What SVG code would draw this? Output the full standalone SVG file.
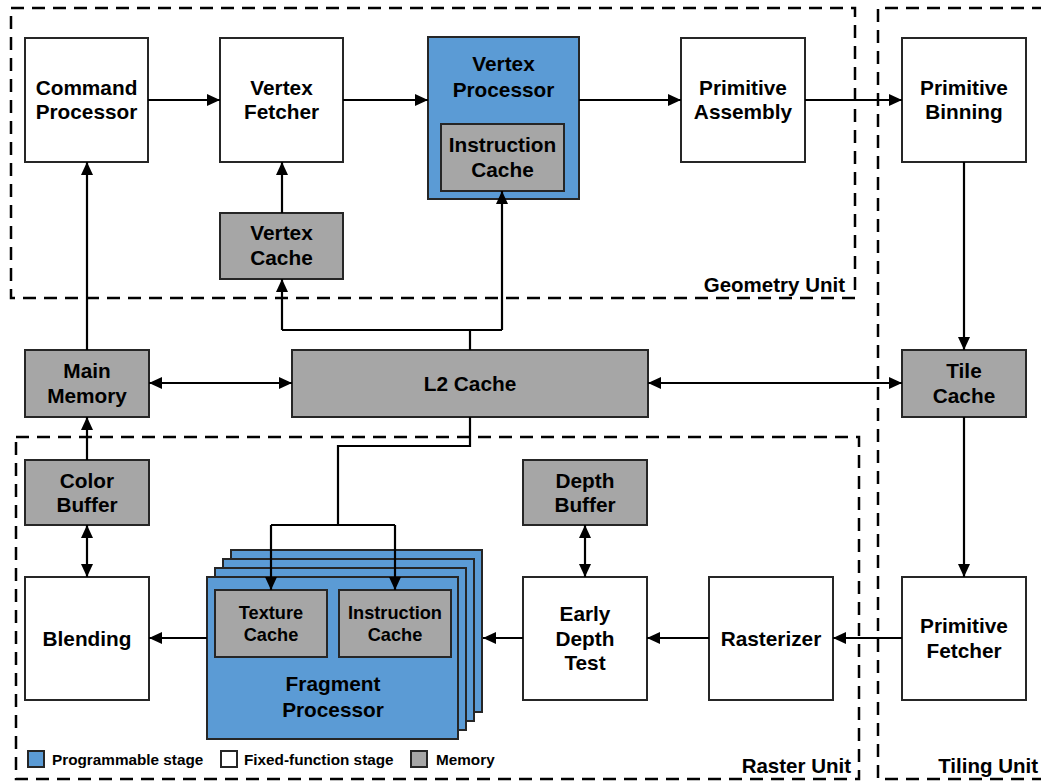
<svg xmlns="http://www.w3.org/2000/svg" width="1041" height="782" viewBox="0 0 1041 782">
  <style>
    .box { stroke: #262626; stroke-width: 2; }
    .fixed { fill: #ffffff; }
    .mem { fill: #a6a6a6; }
    .prog { fill: #5b9bd5; }
    .unit { fill: none; stroke: #000; stroke-width: 2.5; stroke-dasharray: 13 8; }
    .wire { fill: none; stroke: #000; stroke-width: 2.2; }
    text { font-family: "Liberation Sans", Arial, sans-serif; font-weight: bold; fill: #000; }
    .lbl { font-size: 20.8px; text-anchor: middle; }
    .sm { font-size: 18.2px; text-anchor: middle; }
    .unitlbl { font-size: 20.5px; text-anchor: end; }
    .leg { font-size: 15.3px; }
  </style>
  <defs>
    <marker id="arr" markerUnits="userSpaceOnUse" markerWidth="14" markerHeight="12" refX="13" refY="6" orient="auto-start-reverse">
      <path d="M0,0 L13,6 L0,12 Z" fill="#000"/>
    </marker>
  </defs>

  <rect width="1041" height="782" fill="#ffffff"/>

  <!-- functional unit outlines -->
  <g id="units">
    <rect class="unit" x="11" y="8" width="844" height="290"/>
    <path class="unit" d="M1045,8 H878 V779 H1045"/>
    <rect class="unit" x="16" y="437" width="843" height="342"/>
    <text class="unitlbl" x="845" y="292">Geometry Unit</text>
    <text class="unitlbl" x="851" y="773">Raster Unit</text>
    <text class="unitlbl" x="1038" y="773">Tiling Unit</text>
  </g>

  <g id="command-processor">
    <rect class="box fixed" x="25" y="38" width="123" height="124"/>
    <text class="lbl" x="86.5" y="94.5">Command</text>
    <text class="lbl" x="86.5" y="119">Processor</text>
  </g>
  <g id="vertex-fetcher">
    <rect class="box fixed" x="220" y="38" width="123" height="124"/>
    <text class="lbl" x="281.5" y="94.5">Vertex</text>
    <text class="lbl" x="281.5" y="119">Fetcher</text>
  </g>
  <g id="vertex-processor">
    <rect class="box prog" x="428" y="37" width="151" height="162"/>
    <text class="lbl" x="503.5" y="70.5">Vertex</text>
    <text class="lbl" x="503.5" y="97">Processor</text>
    <rect class="box mem" x="441" y="124" width="123" height="67"/>
    <text class="lbl" x="502.5" y="152">Instruction</text>
    <text class="lbl" x="502.5" y="177">Cache</text>
  </g>
  <g id="primitive-assembly">
    <rect class="box fixed" x="681" y="38" width="124" height="124"/>
    <text class="lbl" x="743" y="94.5">Primitive</text>
    <text class="lbl" x="743" y="119">Assembly</text>
  </g>
  <g id="primitive-binning">
    <rect class="box fixed" x="902" y="38" width="124" height="124"/>
    <text class="lbl" x="964" y="94.5">Primitive</text>
    <text class="lbl" x="964" y="119">Binning</text>
  </g>
  <g id="vertex-cache">
    <rect class="box mem" x="220" y="213" width="123" height="66"/>
    <text class="lbl" x="281.5" y="240">Vertex</text>
    <text class="lbl" x="281.5" y="264.5">Cache</text>
  </g>
  <g id="main-memory">
    <rect class="box mem" x="25" y="350" width="124" height="67"/>
    <text class="lbl" x="87" y="378">Main</text>
    <text class="lbl" x="87" y="402.5">Memory</text>
  </g>
  <g id="l2-cache">
    <rect class="box mem" x="292" y="350" width="356" height="67"/>
    <text class="lbl" x="470" y="390.5">L2 Cache</text>
  </g>
  <g id="tile-cache">
    <rect class="box mem" x="902" y="350" width="124" height="67"/>
    <text class="lbl" x="964" y="378">Tile</text>
    <text class="lbl" x="964" y="402.5">Cache</text>
  </g>
  <g id="color-buffer">
    <rect class="box mem" x="25" y="460" width="124" height="65"/>
    <text class="lbl" x="87" y="487.5">Color</text>
    <text class="lbl" x="87" y="512">Buffer</text>
  </g>
  <g id="depth-buffer">
    <rect class="box mem" x="523" y="460" width="124" height="65"/>
    <text class="lbl" x="585" y="487.5">Depth</text>
    <text class="lbl" x="585" y="512">Buffer</text>
  </g>
  <g id="blending">
    <rect class="box fixed" x="25" y="577" width="124" height="123"/>
    <text class="lbl" x="87" y="645.5">Blending</text>
  </g>
  <g id="fragment-processor">
    <rect class="box prog" x="231" y="550" width="251" height="162"/>
    <rect class="box prog" x="223" y="559" width="251" height="162"/>
    <rect class="box prog" x="215" y="568" width="251" height="162"/>
    <rect class="box prog" x="207" y="577" width="251" height="162"/>
    <rect class="box mem" x="215" y="590" width="112" height="67"/>
    <text class="sm" x="271" y="619">Texture</text>
    <text class="sm" x="271" y="640.5">Cache</text>
    <rect class="box mem" x="339" y="590" width="112" height="67"/>
    <text class="sm" x="395" y="619">Instruction</text>
    <text class="sm" x="395" y="640.5">Cache</text>
    <text class="lbl" x="333" y="690.5">Fragment</text>
    <text class="lbl" x="333" y="717">Processor</text>
  </g>
  <g id="early-depth-test">
    <rect class="box fixed" x="523" y="577" width="124" height="123"/>
    <text class="lbl" x="585" y="620.5">Early</text>
    <text class="lbl" x="585" y="645.5">Depth</text>
    <text class="lbl" x="585" y="670">Test</text>
  </g>
  <g id="rasterizer">
    <rect class="box fixed" x="709" y="577" width="124" height="123"/>
    <text class="lbl" x="771" y="645.5">Rasterizer</text>
  </g>
  <g id="primitive-fetcher">
    <rect class="box fixed" x="902" y="577" width="124" height="123"/>
    <text class="lbl" x="964" y="633">Primitive</text>
    <text class="lbl" x="964" y="657.5">Fetcher</text>
  </g>

  <!-- connectors, drawn above the boxes so the feeds into the fragment caches stay visible -->
  <g id="connectors">
    <line class="wire" x1="148" y1="100" x2="220" y2="100" marker-end="url(#arr)"/>
    <line class="wire" x1="343" y1="100" x2="428" y2="100" marker-end="url(#arr)"/>
    <line class="wire" x1="579" y1="100" x2="681" y2="100" marker-end="url(#arr)"/>
    <line class="wire" x1="805" y1="100" x2="902" y2="100" marker-end="url(#arr)"/>
    <line class="wire" x1="282" y1="213" x2="282" y2="162" marker-end="url(#arr)"/>
    <line class="wire" x1="87" y1="350" x2="87" y2="162" marker-end="url(#arr)"/>
    <line class="wire" x1="964" y1="162" x2="964" y2="350" marker-end="url(#arr)"/>
    <line class="wire" x1="964" y1="417" x2="964" y2="577" marker-end="url(#arr)"/>
    <line class="wire" x1="902" y1="638" x2="833" y2="638" marker-end="url(#arr)"/>
    <line class="wire" x1="709" y1="638" x2="647" y2="638" marker-end="url(#arr)"/>
    <line class="wire" x1="523" y1="638" x2="483" y2="638" marker-end="url(#arr)"/>
    <line class="wire" x1="207" y1="638" x2="149" y2="638" marker-end="url(#arr)"/>
    <line class="wire" x1="149" y1="383" x2="292" y2="383" marker-start="url(#arr)" marker-end="url(#arr)"/>
    <line class="wire" x1="648" y1="383" x2="902" y2="383" marker-start="url(#arr)" marker-end="url(#arr)"/>
    <line class="wire" x1="87" y1="460" x2="87" y2="417" marker-end="url(#arr)"/>
    <line class="wire" x1="87" y1="525" x2="87" y2="577" marker-start="url(#arr)" marker-end="url(#arr)"/>
    <line class="wire" x1="585" y1="525" x2="585" y2="577" marker-start="url(#arr)" marker-end="url(#arr)"/>
    <!-- L2 up to vertex cache and vertex instruction cache -->
    <polyline class="wire" points="470,350 470,330"/>
    <polyline class="wire" points="282,330 502,330"/>
    <line class="wire" x1="282" y1="330" x2="282" y2="279" marker-end="url(#arr)"/>
    <line class="wire" x1="502" y1="330" x2="502" y2="191" marker-end="url(#arr)"/>
    <!-- L2 down to fragment processor caches -->
    <polyline class="wire" points="470,417 470,446 338,446 338,525"/>
    <polyline class="wire" points="271,525 395,525"/>
    <line class="wire" x1="271" y1="525" x2="271" y2="590" marker-end="url(#arr)"/>
    <line class="wire" x1="395" y1="525" x2="395" y2="590" marker-end="url(#arr)"/>
  </g>

  <g id="legend">
    <rect class="box prog" x="28" y="751" width="16" height="16" stroke-width="1.5"/>
    <text class="leg" x="52" y="765">Programmable stage</text>
    <rect class="box fixed" x="221" y="751" width="16" height="16" stroke-width="1.5"/>
    <text class="leg" x="244" y="765">Fixed-function stage</text>
    <rect class="box mem" x="411" y="751" width="16" height="16" stroke-width="1.5"/>
    <text class="leg" x="436" y="765">Memory</text>
  </g>
</svg>
